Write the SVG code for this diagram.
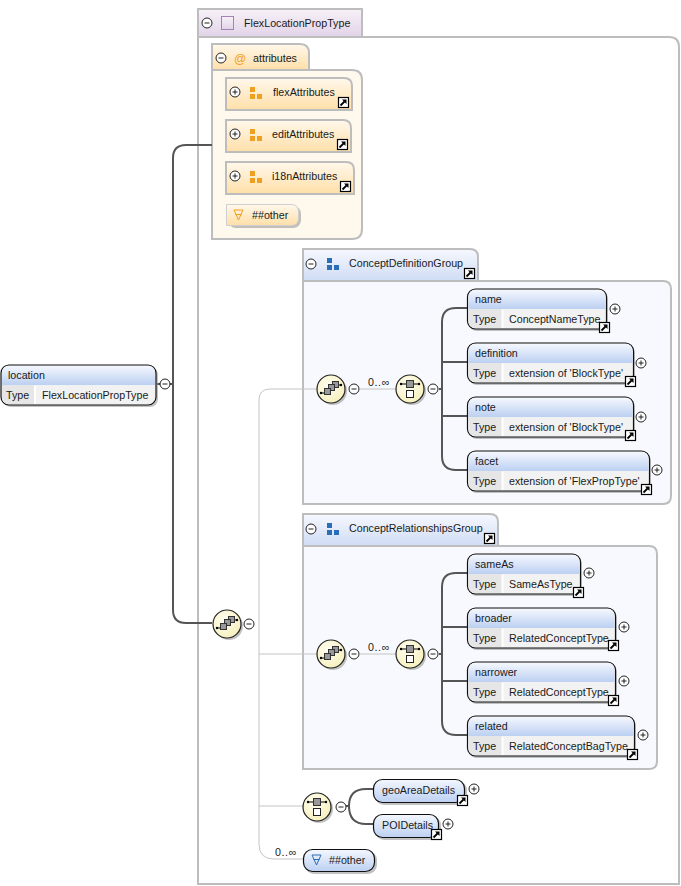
<svg xmlns="http://www.w3.org/2000/svg" width="681" height="886" viewBox="0 0 681 886">
<style>
text{font-family:"Liberation Sans",Arial,sans-serif;font-size:10.7px;fill:#1a1a1a}
.occ{letter-spacing:.6px}
.frame{stroke:#bdbdbd;stroke-width:2}
.conn{fill:none;stroke:#555;stroke-width:2}
.thin{fill:none;stroke:#c4c4c4;stroke-width:1}
.shadow{fill:#9a9a9a;opacity:.6}
.attr{fill:url(#orange);stroke:#bdbdbd;stroke-width:2}
.box{fill:#f2f2f2;stroke:#111;stroke-width:1.2}
.pill{fill:url(#blue);stroke:#111;stroke-width:1.2}
.sep{stroke:#fff;stroke-width:2}
</style>
<defs>
<linearGradient id="purple" x1="0" y1="0" x2="0" y2="1"><stop offset="0" stop-color="#f7f1f8"/><stop offset="1" stop-color="#e2d3e8"/></linearGradient>
<linearGradient id="orange" x1="0" y1="0" x2="0" y2="1"><stop offset="0" stop-color="#fff8ec"/><stop offset="1" stop-color="#ffdfa8"/></linearGradient>
<linearGradient id="blue" x1="0" y1="0" x2="0" y2="1"><stop offset="0" stop-color="#f4f7fe"/><stop offset="1" stop-color="#bcd0f2"/></linearGradient>
<linearGradient id="tab" x1="0" y1="0" x2="0" y2="1"><stop offset="0" stop-color="#f6f8fe"/><stop offset="1" stop-color="#cfdcf5"/></linearGradient>
<radialGradient id="cream" cx=".4" cy=".35" r=".75"><stop offset="0" stop-color="#fffef0"/><stop offset="1" stop-color="#f6eeb8"/></radialGradient>
<g id="minus"><circle r="5" fill="#fff" stroke="#222"/><path d="M-2.500 0H2.500" stroke="#222"/></g>
<g id="plus"><circle r="5" fill="#fff" stroke="#222"/><path d="M-2.500 0H2.500M0-2.500V2.500" stroke="#222"/></g>
<g id="link"><rect x=".5" y=".5" width="10" height="10" fill="#fff" stroke="#000" stroke-width="1.200"/><path d="M2.500 8.500L6.500 4.500" stroke="#000" stroke-width="1.800"/><path d="M4 2.500H8.500V7z" fill="#000"/></g>
<path id="tc" d="M1 20H35V39H8Q1 39 1 32Z" fill="#e6e6e6"/>
<g id="tri" fill="#f0a020"><rect width="5" height="5"/><rect y="7" width="5" height="5"/><rect x="7" y="7" width="5" height="5"/></g>
<g id="tri2" fill="#2a6eb8"><rect width="5" height="5"/><rect y="7" width="5" height="5"/><rect x="7" y="7" width="5" height="5"/></g>
<g id="circ"><circle cx="2" cy="2" r="14" class="shadow"/><circle r="14" fill="url(#cream)" stroke="#222" stroke-width="1.200"/></g>
<g id="all"><use href="#circ"/><path d="M-10 4H-6M6-4H10" stroke="#000"/><circle cx="-10" cy="4" r="1.200"/><circle cx="10" cy="-4" r="1.200"/><rect x="1.500" y="-7.500" width="6" height="6" fill="#999" stroke="#333"/><rect x="-2.500" y="-4.500" width="6" height="6" fill="#999" stroke="#333"/><rect x="-6.500" y="-.5" width="6" height="6" fill="#999" stroke="#333"/></g>
<g id="choice"><use href="#circ"/><path d="M-9-5H9" stroke="#000"/><circle cx="-9" cy="-5" r="1.200"/><circle cx="9" cy="-5" r="1.200"/><rect x="-3.500" y="-8.500" width="7" height="7" fill="#999" stroke="#333"/><rect x="-3.500" y="1.500" width="7" height="7" fill="#fff" stroke="#222"/></g>
</defs>

<g id="FlexLocationPropType">
<path class="frame" fill="#fff" d="M198 37H669Q679 37 679 47V884H198Z"/>
<rect class="frame" x="198" y="9" width="164" height="28" fill="url(#purple)"/>
<use href="#minus" x="207" y="23"/>
<rect x="221.500" y="16.500" width="12" height="13" fill="url(#purple)" stroke="#a582b5"/>
<text x="244" y="27">FlexLocationPropType</text>
</g>

<g id="attributes">
<path class="frame" fill="#fff8ec" d="M212 70H352Q362 70 362 80V229Q362 239 352 239H212Z"/>
<path class="frame" fill="url(#orange)" d="M212 70V44H300Q309 44 309 53V70Z"/>
<use href="#minus" x="221" y="58"/>
<text x="234" y="63" style="fill:#f0a020;font-size:12px">@</text>
<text x="253" y="62">attributes</text>
</g>

<g id="ConceptDefinitionGroup">
<path class="frame" fill="#f8f9fe" d="M303 281H663Q671 281 671 289V496Q671 504 663 504H303Z"/>
<path class="frame" fill="url(#tab)" d="M303 281V249H470Q478 249 478 257V281Z"/>
<use href="#minus" x="311" y="264"/><use href="#tri2" x="327" y="258"/>
<text x="349" y="267">ConceptDefinitionGroup</text><use href="#link" x="464" y="268"/>
</g>

<g id="ConceptRelationshipsGroup">
<path class="frame" fill="#f8f9fe" d="M303 546H649Q657 546 657 554V761Q657 769 649 769H303Z"/>
<path class="frame" fill="url(#tab)" d="M303 546V514H490Q498 514 498 522V546Z"/>
<use href="#minus" x="311" y="529"/><use href="#tri2" x="327" y="523"/>
<text x="349" y="532">ConceptRelationshipsGroup</text><use href="#link" x="484" y="533"/>
</g>

<g id="connectors">
<path class="conn" d="M157 384H173V158Q173 145 186 145H212M173 384V610Q173 623 186 623H212"/>
<path class="thin" d="M259 623V400Q259 389 270 389H317M259 654H317M259 806H303M259 623V844Q259 859 274 859H303"/>
<path class="thin" d="M360 389H396M360 654H396"/>
<path class="conn" d="M439 389H442M442 389V322Q442 308 456 308H467M442 362H467M442 389V416H467M442 389V456Q442 470 456 470H467"/>
<path class="conn" d="M439 654H442M442 654V587Q442 573 456 573H467M442 627H467M442 654V681H467M442 654V721Q442 735 456 735H467"/>
<path class="conn" d="M346 806H349M349 806Q349 789 366 789H373M349 806Q349 824 366 824H373"/>
</g>

<g id="flexAttributes">
<path class="attr" d="M226 78H344Q352 78 352 86V110H226Z"/>
<use href="#plus" x="235" y="92"/>
<use href="#tri" x="250" y="87"/>
<text x="273" y="96">flexAttributes</text>
<use href="#link" x="338" y="97"/>
</g>
<g id="editAttributes">
<path class="attr" d="M226 120H343Q351 120 351 128V152H226Z"/>
<use href="#plus" x="235" y="134"/>
<use href="#tri" x="250" y="129"/>
<text x="272" y="138">editAttributes</text>
<use href="#link" x="337" y="139"/>
</g>
<g id="i18nAttributes">
<path class="attr" d="M226 162H346Q354 162 354 170V194H226Z"/>
<use href="#plus" x="235" y="176"/>
<use href="#tri" x="250" y="171"/>
<text x="272" y="180">i18nAttributes</text>
<use href="#link" x="340" y="181"/>
</g>
<g id="other-attr">
<rect x="228" y="206" width="73" height="22" rx="8" class="shadow"/>
<path d="M226.500 204.500H291Q298.500 204.500 298.500 212V218Q298.500 225.500 291 225.500H226.500Z" fill="url(#orange)" stroke="#cfcfcf"/>
<path d="M234 210H243L238.500 220ZM235.500 214.500H241.500" fill="none" stroke="#f0a020"/>
<text x="252" y="219">##other</text>
</g>

<g id="location">
<rect x="3" y="367" width="155" height="40" rx="8" class="shadow"/>
<rect x="1" y="365" width="155" height="40" rx="8" class="box"/>
<use href="#tc" x="1" y="365"/>
<path d="M2 385V373Q2 366 9 366H148Q155 366 155 373V385Z" fill="url(#blue)"/>
<path class="sep" d="M35 385.500V404"/>
<text x="8" y="379">location</text><text x="6" y="399">Type</text><text x="42" y="399">FlexLocationPropType</text>
<use href="#minus" x="165" y="384"/>
</g>

<g id="sequence-root"><use href="#all" x="227" y="624"/><use href="#minus" x="249" y="624"/></g>

<g id="def-seq"><use href="#all" x="331" y="389"/><use href="#minus" x="354" y="389"/><text class="occ" x="368" y="386">0..∞</text></g>
<g id="def-choice"><use href="#choice" x="410" y="389"/><use href="#minus" x="433" y="389"/></g>

<g id="name">
<rect x="469" y="291" width="139" height="40" rx="8" class="shadow"/>
<rect x="467.500" y="289" width="139" height="40" rx="8" class="box"/>
<use href="#tc" x="467.500" y="289"/>
<path d="M468.500 309V297Q468.500 290 475.500 290H598.500Q605.500 290 605.500 297V309Z" fill="url(#blue)"/>
<path class="sep" d="M502.500 309.500V328"/>
<text x="475" y="303">name</text><text x="473" y="323">Type</text><text x="509" y="323">ConceptNameType</text>
<use href="#link" x="599" y="322"/><use href="#plus" x="615" y="309"/>
</g>
<g id="definition">
<rect x="469" y="345" width="166" height="40" rx="8" class="shadow"/>
<rect x="467.500" y="343" width="166" height="40" rx="8" class="box"/>
<use href="#tc" x="467.500" y="343"/>
<path d="M468.500 363V351Q468.500 344 475.500 344H625.500Q632.500 344 632.500 351V363Z" fill="url(#blue)"/>
<path class="sep" d="M502.500 363.500V382"/>
<text x="475" y="357">definition</text><text x="473" y="377">Type</text><text x="509" y="377">extension of 'BlockType'</text>
<use href="#link" x="625" y="376"/><use href="#plus" x="641" y="363"/>
</g>
<g id="note">
<rect x="469" y="399" width="166" height="40" rx="8" class="shadow"/>
<rect x="467.500" y="397" width="166" height="40" rx="8" class="box"/>
<use href="#tc" x="467.500" y="397"/>
<path d="M468.500 417V405Q468.500 398 475.500 398H625.500Q632.500 398 632.500 405V417Z" fill="url(#blue)"/>
<path class="sep" d="M502.500 417.500V436"/>
<text x="475" y="411">note</text><text x="473" y="431">Type</text><text x="509" y="431">extension of 'BlockType'</text>
<use href="#link" x="625" y="430"/><use href="#plus" x="641" y="417"/>
</g>
<g id="facet">
<rect x="469" y="453" width="182" height="40" rx="8" class="shadow"/>
<rect x="467.500" y="451" width="182" height="40" rx="8" class="box"/>
<use href="#tc" x="467.500" y="451"/>
<path d="M468.500 471V459Q468.500 452 475.500 452H641.500Q648.500 452 648.500 459V471Z" fill="url(#blue)"/>
<path class="sep" d="M502.500 471.500V490"/>
<text x="475" y="465">facet</text><text x="473" y="485">Type</text><text x="509" y="485">extension of 'FlexPropType'</text>
<use href="#link" x="641" y="484"/><use href="#plus" x="657" y="470"/>
</g>

<g id="rel-seq"><use href="#all" x="331" y="654"/><use href="#minus" x="354" y="654"/><text class="occ" x="368" y="651">0..∞</text></g>
<g id="rel-choice"><use href="#choice" x="410" y="654"/><use href="#minus" x="433" y="654"/></g>

<g id="sameAs">
<rect x="469" y="556" width="113" height="40" rx="8" class="shadow"/>
<rect x="467.500" y="554" width="113" height="40" rx="8" class="box"/>
<use href="#tc" x="467.500" y="554"/>
<path d="M468.500 574V562Q468.500 555 475.500 555H572.500Q579.500 555 579.500 562V574Z" fill="url(#blue)"/>
<path class="sep" d="M502.500 574.500V593"/>
<text x="475" y="568">sameAs</text><text x="473" y="588">Type</text><text x="509" y="588">SameAsType</text>
<use href="#link" x="573" y="587"/><use href="#plus" x="589" y="573"/>
</g>
<g id="broader">
<rect x="469" y="610" width="148" height="40" rx="8" class="shadow"/>
<rect x="467.500" y="608" width="148" height="40" rx="8" class="box"/>
<use href="#tc" x="467.500" y="608"/>
<path d="M468.500 628V616Q468.500 609 475.500 609H607.500Q614.500 609 614.500 616V628Z" fill="url(#blue)"/>
<path class="sep" d="M502.500 628.500V647"/>
<text x="475" y="622">broader</text><text x="473" y="642">Type</text><text x="509" y="642">RelatedConceptType</text>
<use href="#link" x="608" y="640"/><use href="#plus" x="624" y="627"/>
</g>
<g id="narrower">
<rect x="469" y="664" width="148" height="40" rx="8" class="shadow"/>
<rect x="467.500" y="662" width="148" height="40" rx="8" class="box"/>
<use href="#tc" x="467.500" y="662"/>
<path d="M468.500 682V670Q468.500 663 475.500 663H607.500Q614.500 663 614.500 670V682Z" fill="url(#blue)"/>
<path class="sep" d="M502.500 682.500V701"/>
<text x="475" y="676">narrower</text><text x="473" y="696">Type</text><text x="509" y="696">RelatedConceptType</text>
<use href="#link" x="608" y="695"/><use href="#plus" x="624" y="681"/>
</g>
<g id="related">
<rect x="469" y="718" width="167" height="40" rx="8" class="shadow"/>
<rect x="467.500" y="716" width="167" height="40" rx="8" class="box"/>
<use href="#tc" x="467.500" y="716"/>
<path d="M468.500 736V724Q468.500 717 475.500 717H626.500Q633.500 717 633.500 724V736Z" fill="url(#blue)"/>
<path class="sep" d="M502.500 736.500V755"/>
<text x="475" y="730">related</text><text x="473" y="750">Type</text><text x="509" y="750">RelatedConceptBagType</text>
<use href="#link" x="627" y="749"/><use href="#plus" x="643" y="735"/>
</g>

<g id="geo-choice"><use href="#choice" x="317" y="807"/><use href="#minus" x="341" y="807"/></g>
<g id="geoAreaDetails">
<rect x="375" y="781" width="92" height="24" rx="9" class="shadow"/>
<rect x="373.500" y="779.500" width="91" height="23" rx="9" class="pill"/>
<text x="382" y="794">geoAreaDetails</text>
<use href="#link" x="457" y="795"/><use href="#plus" x="474" y="789"/>
</g>
<g id="POIDetails">
<rect x="375" y="816" width="66" height="24" rx="9" class="shadow"/>
<rect x="373.500" y="814.500" width="65" height="23" rx="9" class="pill"/>
<text x="382" y="829">POIDetails</text>
<use href="#link" x="431" y="829"/><use href="#plus" x="448" y="824"/>
</g>
<g id="other-bottom">
<text class="occ" x="275" y="856">0..∞</text>
<rect x="305" y="851" width="72" height="23" rx="9" class="shadow"/>
<rect x="303.500" y="849.500" width="71" height="22" rx="9" class="pill"/>
<path d="M312 855H321L316.500 865ZM313.500 859.500H319.500" fill="none" stroke="#2a6eb8"/>
<text x="329" y="864">##other</text>
</g>
</svg>
